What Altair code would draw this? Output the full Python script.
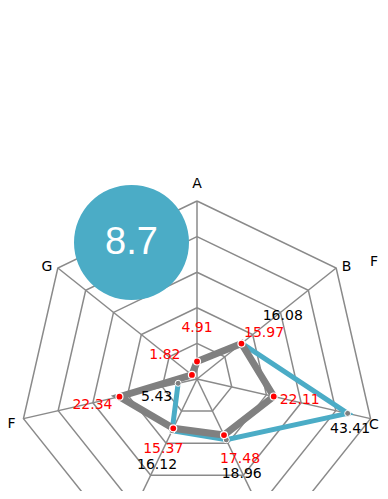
import altair as alt
import pandas as pd
import numpy as np

# ---------------- data ----------------
axes = ["A", "B", "C", "D", "E", "F", "G"]
series_gray = [4.91, 15.97, 22.11, 17.48, 15.37, 22.34, 1.82]
series_blue = [None, 16.08, 43.41, 18.96, 16.12, 5.43, None]
grid_levels = [10, 20, 30, 40, 50]
badge_value = [8.7]

# ---------------- style ----------------
PX = 3.56                      # pixels per value unit (radius 178 px = 50)
W, H = 372, 483
CX_PX, CY_PX = 197 - 8, 379 - 8      # main radar centre inside the svg
X_DOM = [-CX_PX / PX, (W - CX_PX) / PX]
Y_DOM = [-(H - CY_PX) / PX, CY_PX / PX]
SECOND_CENTER = ((559.3 - 197) / PX, (379 - 216.6) / PX)
BADGE_CENTER = ((131.5 - 197) / PX, (379 - 242.5) / PX)

gray_lab_dx = [0, 22.6, 26, 16, -10, -27, -27]
gray_lab_dy = [-33.5, -10.6, 3.5, 24, 21, 8, -20]
blue_lab_dx = [0, 41, 2.4, 15.4, -15, -21.5, 0]
blue_lab_dy = [0, -27, 15.7, 34, 34.3, 14, 0]
axis_lab_dx = [0, 5.5, -1.5, 6, -6, -7.8, -5.5]
axis_lab_dy = [-13, 3, 10.5, 20, 20, 9.5, 3]
axis_lab_align = ["center", "left", "left", "left", "right", "right", "right"]

GRID_COLOR = "#8a8a8a"
BLUE = "#4BACC6"
GRAY = "#808080"
FONT = "DejaVu Sans"

n = len(axes)
ang = np.arange(n) * 2 * np.pi / n


def polar(v, k, c=(0.0, 0.0)):
    return c[0] + v * np.sin(ang[k]), c[1] + v * np.cos(ang[k])


def inside(x, y):
    return X_DOM[0] <= x <= X_DOM[1] and Y_DOM[0] <= y <= Y_DOM[1]


def grid_frames(c, tag):
    rings, spokes, labels = [], [], []
    for lv in grid_levels:
        for i in range(n + 1):
            k = i % n
            x, y = polar(lv, k, c)
            rings.append({"ring": f"{tag}{lv}", "idx": i, "x": x, "y": y})
    top = grid_levels[-1]
    for k in range(n):
        x, y = polar(top, k, c)
        spokes.append({"x": c[0], "y": c[1], "x2": x, "y2": y})
        lx, ly = x + axis_lab_dx[k] / PX, y - axis_lab_dy[k] / PX
        if inside(lx, ly):
            labels.append({"label": axes[k], "align": axis_lab_align[k], "x": lx, "y": ly})
    return rings, spokes, labels


r1, s1, l1 = grid_frames((0.0, 0.0), "m")
r2, s2, l2 = grid_frames(SECOND_CENTER, "s")
rings = pd.DataFrame(r1 + r2)
spokes = pd.DataFrame(s1 + s2)
axis_labels = pd.DataFrame(l1 + l2)

gray_rows, blue_rows = [], []
for k in range(n + 1):
    kk = k % n
    x, y = polar(series_gray[kk], kk)
    gray_rows.append({"idx": k, "x": x, "y": y, "v": series_gray[kk],
                      "lx": x + gray_lab_dx[kk] / PX, "ly": y - gray_lab_dy[kk] / PX,
                      "txt": f"{series_gray[kk]:.2f}"})
for k in range(n):
    if series_blue[k] is None:
        continue
    x, y = polar(series_blue[k], k)
    blue_rows.append({"idx": k, "x": x, "y": y, "v": series_blue[k],
                      "lx": x + blue_lab_dx[k] / PX, "ly": y - blue_lab_dy[k] / PX,
                      "txt": f"{series_blue[k]:.2f}"})
gray_df = pd.DataFrame(gray_rows)
gray_pts = gray_df.iloc[:n]
blue_df = pd.DataFrame(blue_rows)
badge = pd.DataFrame({"x": [BADGE_CENTER[0]], "y": [BADGE_CENTER[1]],
                      "txt": [str(v) for v in badge_value]})

xs = alt.Scale(domain=X_DOM, nice=False, zero=False)
ys = alt.Scale(domain=Y_DOM, nice=False, zero=False)
X = lambda f: alt.X(f, type="quantitative", scale=xs, axis=None)
Y = lambda f: alt.Y(f, type="quantitative", scale=ys, axis=None)

ring_layer = alt.Chart(rings).mark_line(color=GRID_COLOR, strokeWidth=1.5, clip=True).encode(
    x=X("x"), y=Y("y"), detail="ring:N", order="idx:Q")
spoke_layer = alt.Chart(spokes).mark_rule(color=GRID_COLOR, strokeWidth=1.5, clip=True).encode(
    x=X("x"), y=Y("y"), x2="x2:Q", y2="y2:Q")

blue_line = alt.Chart(blue_df).mark_line(color=BLUE, strokeWidth=5, strokeJoin="miter", clip=True).encode(
    x=X("x"), y=Y("y"), order="idx:Q")
gray_line = alt.Chart(gray_df).mark_line(color=GRAY, strokeWidth=7, strokeJoin="miter", clip=True).encode(
    x=X("x"), y=Y("y"), order="idx:Q")
blue_pts = alt.Chart(blue_df).mark_circle(color="#7f7f7f", size=36, opacity=1, stroke="white",
                                          strokeWidth=1, clip=True).encode(x=X("x"), y=Y("y"))
red_pts = alt.Chart(gray_pts).mark_circle(color="#ff0000", size=49, opacity=1, stroke="white",
                                          strokeWidth=1.2, clip=True).encode(x=X("x"), y=Y("y"))

gray_txt = alt.Chart(gray_pts).mark_text(color="#ff0000", font=FONT, fontSize=14, align="center",
                                         baseline="middle", clip=True).encode(
    x=X("lx"), y=Y("ly"), text="txt:N")
blue_txt = alt.Chart(blue_df).mark_text(color="#000000", font=FONT, fontSize=14, align="center",
                                        baseline="middle", clip=True).encode(
    x=X("lx"), y=Y("ly"), text="txt:N")

axis_txt = [
    alt.Chart(axis_labels).transform_filter(alt.datum.align == a).mark_text(
        color="#000000", font=FONT, fontSize=14, align=a, baseline="alphabetic", clip=True).encode(
        x=X("x"), y=Y("y"), text="label:N")
    for a in ["center", "left", "right"]
]

badge_circle = alt.Chart(badge).mark_circle(color=BLUE, size=115 * 115, opacity=1).encode(
    x=X("x"), y=Y("y"))
badge_text = alt.Chart(badge).mark_text(color="white", font="Liberation Sans", fontSize=38,
                                        align="center", baseline="alphabetic", dy=11.5).encode(
    x=X("x"), y=Y("y"), text="txt:N")

chart = alt.layer(
    ring_layer, spoke_layer, blue_line, gray_line, blue_pts, red_pts,
    gray_txt, blue_txt, *axis_txt, badge_circle, badge_text
).properties(width=W, height=H, padding=0, autosize="none").configure_view(stroke=None)

chart.save("out.html", embed_options={"renderer": "svg", "actions": False})
